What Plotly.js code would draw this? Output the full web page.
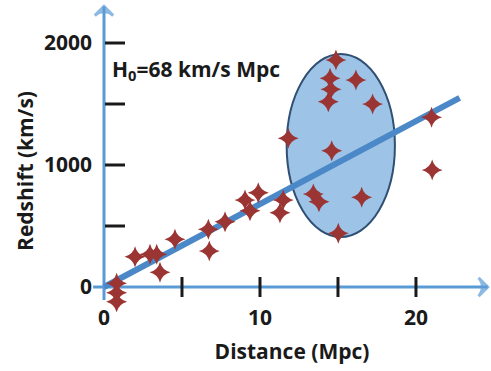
<!DOCTYPE html>
<html>
<head>
<meta charset="utf-8">
<script src="https://cdn.plot.ly/plotly-3.0.1.min.js"></script>
<style>html,body{margin:0;padding:0;background:#fff;}#chart{width:491px;height:371px;}</style>
</head>
<body>
<div id="chart"></div>
<script>
// Galaxy measurements: distance (Mpc) and redshift velocity (km/s)
const distance = [0.81, 0.81, 0.81, 1.99, 2.95, 3.38, 3.59, 4.55, 6.69, 6.75,
                  7.76, 9.04, 9.89, 9.36, 11.49, 11.28, 11.81, 13.42, 13.78, 16.52,
                  15.02, 14.87, 14.49, 14.55, 14.38, 16.15, 17.22, 14.6, 21.0, 21.04];
const redshift = [30, -47, -120, 248, 268, 268, 120, 391, 473, 295,
                  535, 713, 773, 625, 713, 609, 1219, 762, 699, 735,
                  440, 1861, 1711, 1620, 1519, 1697, 1500, 1117, 1391, 959];

// Hubble law fit: v = H0 * d
const H0 = 68;
const fitX = [0, 22.8];
const fitY = fitX.map(d => H0 * d);

// Highlighted cluster (ellipse bounds)
const clusterX = [11.71, 18.65];
const clusterY = [410, 1910];

// Axes
const xRange = [-0.705, 24.81];
const yRange = [-450.8, 2352.5];
const xTickLabels = [0, 10, 20];
const xTickMarks = [5, 10, 15, 20];
const yTickLabels = [0, 1000, 2000];
const yTickMarks = [500, 1000, 1500, 2000];
const axisArrowX = [-0.7, 24.6];
const axisArrowY = [-107, 2300];

const FONT = '"Open Sans", Lato, sans-serif';
const TEXT = '#1a1a1a';
const AXIS_BLUE = '#5b9bd5';
const FS = 21;

const traces = [
  { // drawn x axis with arrow
    x: axisArrowX, y: [0, 0], type: 'scatter', mode: 'lines+markers', cliponaxis: false,
    line: {color: AXIS_BLUE, width: 3},
    marker: {symbol: ['line-ns', 'arrow-wide-open'], size: [0, 13], angleref: 'previous',
             color: AXIS_BLUE, line: {color: AXIS_BLUE, width: 3}},
    hoverinfo: 'skip', showlegend: false
  },
  { // drawn y axis with arrow
    x: [0, 0], y: axisArrowY, type: 'scatter', mode: 'lines+markers', cliponaxis: false,
    line: {color: AXIS_BLUE, width: 3},
    marker: {symbol: ['line-ew', 'arrow-wide-open'], size: [0, 13], angleref: 'previous',
             color: AXIS_BLUE, line: {color: AXIS_BLUE, width: 3}},
    hoverinfo: 'skip', showlegend: false
  },
  {
    x: fitX, y: fitY, type: 'scatter', mode: 'lines',
    line: {color: '#4a88c8', width: 6}, hoverinfo: 'skip', showlegend: false
  },
  {
    x: distance, y: redshift, type: 'scatter', mode: 'markers', cliponaxis: false,
    marker: {symbol: 'star-diamond', size: 15, color: '#9b3533', line: {width: 0}},
    showlegend: false
  }
];

const shapes = [
  {
    type: 'circle', xref: 'x', yref: 'y', layer: 'below',
    x0: clusterX[0], x1: clusterX[1], y0: clusterY[0], y1: clusterY[1],
    fillcolor: '#9dc3e6', line: {color: '#2f4f73', width: 2}
  }
];
yTickMarks.forEach(v => shapes.push({
  type: 'line', xref: 'x', yref: 'y', xsizemode: 'pixel', xanchor: 0,
  x0: 1, x1: 21, y0: v, y1: v, layer: 'above', line: {color: TEXT, width: 3}
}));
xTickMarks.forEach(v => shapes.push({
  type: 'line', xref: 'x', yref: 'y', ysizemode: 'pixel', yanchor: 0,
  x0: v, x1: v, y0: -10, y1: 10, layer: 'above', line: {color: TEXT, width: 3}
}));

const annotations = [
  {
    x: 0.4, y: 1780, xref: 'x', yref: 'y', xanchor: 'left', yanchor: 'middle',
    text: 'H<sub>0</sub>=68 km/s Mpc', showarrow: false,
    font: {family: FONT, size: FS, color: TEXT, weight: 'bold'}
  }
];

const layout = {
  width: 491, height: 371,
  margin: {l: 93, r: 0, t: 0, b: 29},
  paper_bgcolor: '#ffffff', plot_bgcolor: '#ffffff',
  showlegend: false,
  font: {family: FONT, color: TEXT},
  xaxis: {
    range: xRange, showgrid: false, zeroline: false, showline: false,
    anchor: 'free', position: 39 / 342,
    tickvals: xTickLabels, ticktext: xTickLabels.map(String), ticks: '',
    tickfont: {family: FONT, size: FS, color: TEXT, weight: 'bold'},
    title: {text: 'Distance (Mpc)', standoff: 14, font: {family: FONT, size: FS, color: TEXT, weight: 'bold'}}
  },
  yaxis: {
    range: yRange, showgrid: false, zeroline: false, showline: false,
    tickvals: yTickLabels, ticktext: yTickLabels.map(String), ticks: '',
    tickfont: {family: FONT, size: FS, color: TEXT, weight: 'bold'},
    title: {text: 'Redshift (km/s)', standoff: 4, font: {family: FONT, size: FS, color: TEXT, weight: 'bold'}}
  },
  shapes: shapes,
  annotations: annotations
};

Plotly.newPlot('chart', traces, layout, {displayModeBar: false, staticPlot: true});
</script>
</body>
</html>
